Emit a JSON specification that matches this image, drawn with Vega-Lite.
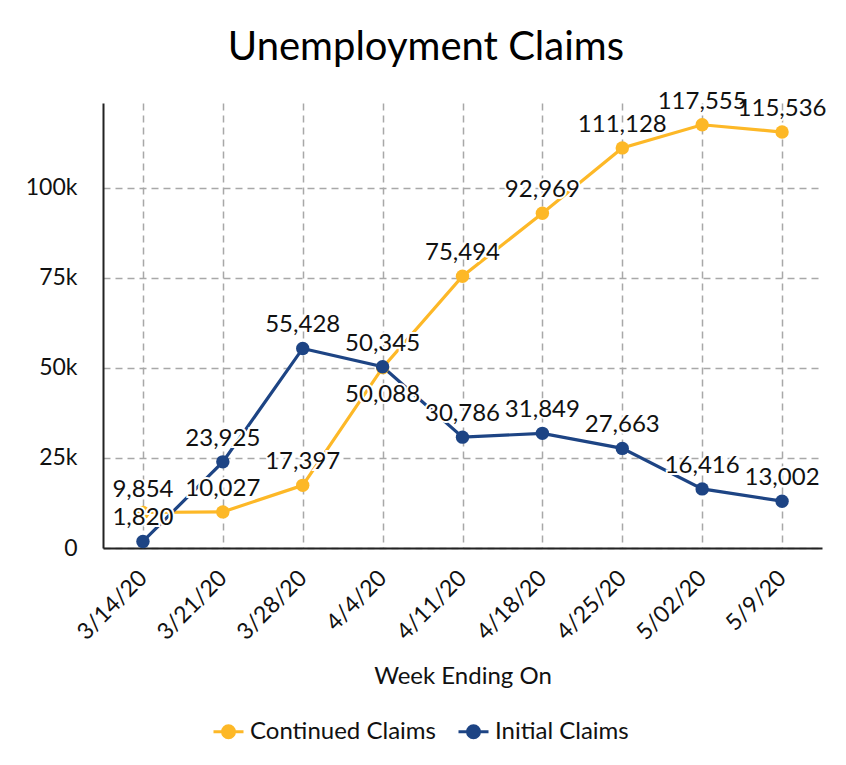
{
  "$schema": "https://vega.github.io/schema/vega-lite/v6.json",
  "width": 719,
  "height": 445,
  "autosize": {"type": "none"},
  "padding": {"left": 103, "top": 103, "right": 24, "bottom": 217},
  "background": "white",
  "title": {
    "text": "Unemployment Claims",
    "font": "Lato",
    "fontSize": 40,
    "fontWeight": "normal",
    "color": "#000000",
    "anchor": "middle",
    "frame": "bounds",
    "offset": 22
  },
  "data": {
    "values": [
      {"week": "3/14/20", "series": "Continued Claims", "claims": 9854},
      {"week": "3/21/20", "series": "Continued Claims", "claims": 10027},
      {"week": "3/28/20", "series": "Continued Claims", "claims": 17397},
      {"week": "4/4/20", "series": "Continued Claims", "claims": 50088},
      {"week": "4/11/20", "series": "Continued Claims", "claims": 75494},
      {"week": "4/18/20", "series": "Continued Claims", "claims": 92969},
      {"week": "4/25/20", "series": "Continued Claims", "claims": 111128},
      {"week": "5/02/20", "series": "Continued Claims", "claims": 117555},
      {"week": "5/9/20", "series": "Continued Claims", "claims": 115536},
      {"week": "3/14/20", "series": "Initial Claims", "claims": 1820},
      {"week": "3/21/20", "series": "Initial Claims", "claims": 23925},
      {"week": "3/28/20", "series": "Initial Claims", "claims": 55428},
      {"week": "4/4/20", "series": "Initial Claims", "claims": 50345},
      {"week": "4/11/20", "series": "Initial Claims", "claims": 30786},
      {"week": "4/18/20", "series": "Initial Claims", "claims": 31849},
      {"week": "4/25/20", "series": "Initial Claims", "claims": 27663},
      {"week": "5/02/20", "series": "Initial Claims", "claims": 16416},
      {"week": "5/9/20", "series": "Initial Claims", "claims": 13002}
    ]
  },
  "encoding": {
    "x": {
      "field": "week",
      "type": "ordinal",
      "sort": null,
      "scale": {"type": "point", "padding": 0.5},
      "axis": {
        "title": "Week Ending On",
        "titleFont": "Lato",
        "titleFontSize": 24,
        "titleFontWeight": "normal",
        "titleColor": "#111111",
        "titlePadding": 20,
        "labelFont": "Lato",
        "labelFontSize": 23,
        "labelColor": "#111111",
        "labelAngle": -45,
        "labelAlign": "right",
        "labelBaseline": "middle",
        "labelPadding": 26,
        "ticks": false,
        "domainColor": "#222222",
        "domainWidth": 2,
        "grid": true,
        "gridColor": "#a8a8a8",
        "gridWidth": 1.5,
        "gridDash": [7, 5]
      }
    },
    "y": {
      "field": "claims",
      "type": "quantitative",
      "scale": {"domain": [0, 123600], "nice": false},
      "axis": {
        "title": null,
        "values": [0, 25000, 50000, 75000, 100000],
        "labelExpr": "datum.value === 0 ? '0' : format(datum.value / 1000, 'd') + 'k'",
        "labelFont": "Lato",
        "labelFontSize": 23,
        "labelColor": "#111111",
        "labelPadding": 26,
        "ticks": false,
        "domainColor": "#222222",
        "domainWidth": 2,
        "grid": true,
        "gridColor": "#a8a8a8",
        "gridWidth": 1.5,
        "gridDash": [7, 5]
      }
    },
    "color": {
      "field": "series",
      "type": "nominal",
      "scale": {"domain": ["Continued Claims", "Initial Claims"], "range": ["#FDB827", "#1D4484"]},
      "legend": {
        "title": null,
        "orient": "none",
        "direction": "horizontal",
        "legendX": 109,
        "legendY": 612,
        "labelFont": "Lato",
        "labelFontSize": 24,
        "labelLimit": 400,
        "labelColor": "#111111",
        "labelOffset": 5,
        "columnPadding": 16,
        "symbolType": "M-1,0L-0.4,0M0.4,0L1,0M-0.4,0A0.4,0.4,0,1,1,0.4,0A0.4,0.4,0,1,1,-0.4,0Z",
        "symbolSize": 900,
        "symbolStrokeWidth": 3
      }
    }
  },
  "layer": [
    {"mark": {"type": "line", "strokeWidth": 3.2}},
    {"mark": {"type": "point", "filled": true, "size": 180, "opacity": 1}},
    {
      "transform": [{"filter": "!(datum.week === '4/4/20' && datum.series === 'Continued Claims')"}],
      "mark": {"type": "text", "font": "Lato", "fontSize": 24, "dy": -23, "stroke": "white", "strokeWidth": 4, "fill": "white"},
      "encoding": {"text": {"field": "claims", "format": ","}, "color": {"value": "white"}}
    },
    {
      "transform": [{"filter": "!(datum.week === '4/4/20' && datum.series === 'Continued Claims')"}],
      "mark": {"type": "text", "font": "Lato", "fontSize": 24, "dy": -23, "fill": "#111111"},
      "encoding": {"text": {"field": "claims", "format": ","}, "color": {"value": "#111111"}}
    },
    {
      "transform": [{"filter": "datum.week === '4/4/20' && datum.series === 'Continued Claims'"}],
      "mark": {"type": "text", "font": "Lato", "fontSize": 24, "dy": 27, "stroke": "white", "strokeWidth": 4, "fill": "white"},
      "encoding": {"text": {"field": "claims", "format": ","}, "color": {"value": "white"}}
    },
    {
      "transform": [{"filter": "datum.week === '4/4/20' && datum.series === 'Continued Claims'"}],
      "mark": {"type": "text", "font": "Lato", "fontSize": 24, "dy": 27, "fill": "#111111"},
      "encoding": {"text": {"field": "claims", "format": ","}, "color": {"value": "#111111"}}
    }
  ],
  "config": {
    "view": {"stroke": null}
  }
}
